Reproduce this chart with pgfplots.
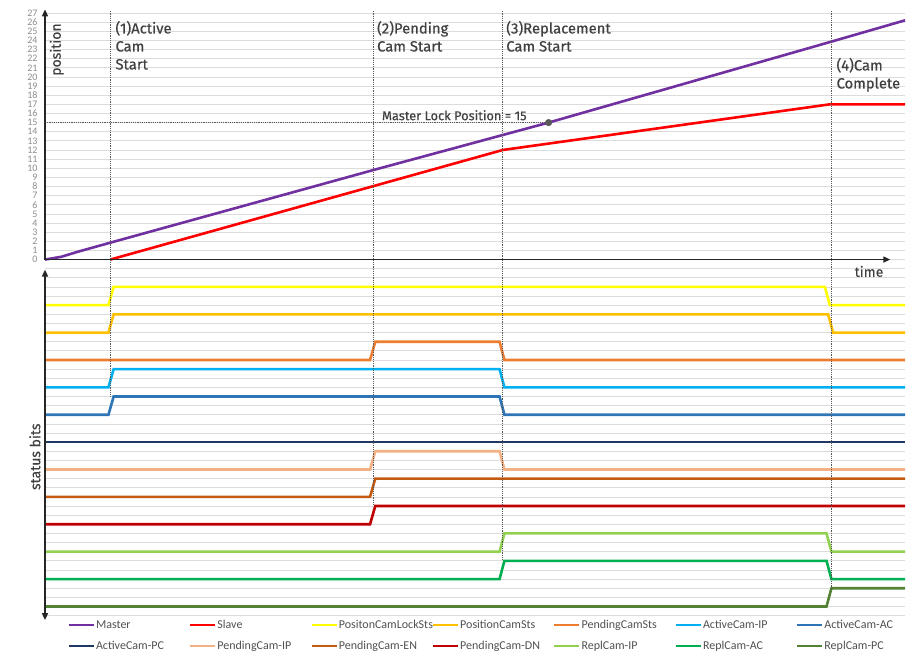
\documentclass[border=0pt]{standalone}
\usepackage{fontspec}
\setmainfont{Carlito}
\newfontfamily\annfont[FakeBold=0.4]{Fira Sans}
\usepackage{pgfplots}
\pgfplotsset{compat=1.18}
\usetikzlibrary{arrows.meta}
\definecolor{cMaster}{HTML}{7030A0}
\definecolor{cSlave}{HTML}{FF0000}
\definecolor{cLock}{HTML}{FFFF00}
\definecolor{cPosSts}{HTML}{FFC000}
\definecolor{cPendSts}{HTML}{ED7D31}
\definecolor{cActIP}{HTML}{00B0F0}
\definecolor{cActAC}{HTML}{2E75B6}
\definecolor{cActPC}{HTML}{1F3864}
\definecolor{cPendIP}{HTML}{F4B183}
\definecolor{cPendEN}{HTML}{C55A11}
\definecolor{cPendDN}{HTML}{C00000}
\definecolor{cReplIP}{HTML}{92D050}
\definecolor{cReplAC}{HTML}{00B050}
\definecolor{cReplPC}{HTML}{548235}
\definecolor{gridgray}{HTML}{DCDCDC}
\definecolor{tickgray}{HTML}{8C8C8C}
\definecolor{anngray}{HTML}{404040}
\definecolor{leggray}{HTML}{505050}
\definecolor{dotgray}{HTML}{595959}
\begin{document}
\begin{tikzpicture}
\begin{axis}[
  name=main,
  scale only axis, width=860pt, height=605.3pt,
  xmin=0, xmax=26.3, ymin=-39, ymax=27.3,
  axis line style={draw=none},
  xtick=\empty,
  ytick={0,...,27},
  extra y ticks={-39,...,-1},
  extra y tick labels={},
  extra y tick style={grid=major},
  ymajorgrids,
  major grid style={line width=0.7pt, color=gridgray},
  major tick length=0pt,
  tick style={draw=none},
  yticklabel style={font=\fontsize{10}{10}\selectfont, text=tickgray, xshift=-4pt},
  /pgf/number format/assume math mode=true,
  clip=false,
  legend columns=7,
  legend style={draw=none, fill=none, at={(axis cs:0.68,-39.25)}, anchor=north west,
    font=\fontsize{12}{13}\selectfont, text=leggray, row sep=7pt, inner sep=0pt,
    nodes={inner xsep=1pt}},
  legend image code/.code={\draw[#1] (0pt,0pt) -- (25pt,0pt);},
  every axis plot/.append style={line width=2.6pt},
]
% ---- position graph ----
\addplot[cMaster] coordinates {(0,0) (0.5,0.3) (1,0.85) (2,1.85) (10.04,9.8) (15.4,15) (24.08,23.9) (26.3,26.2)};
\addlegendentry{\makebox[91.8pt][l]{Master}}
\addplot[cSlave] coordinates {(2,0) (14,12) (24,17) (26.3,17)};
\addlegendentry{\makebox[91.8pt][l]{Slave}}
% ---- status bits ----
\addplot[cLock] coordinates {(0,-5) (1.94,-5) (2.1,-3) (23.85,-3) (24,-5) (26.3,-5)};
\addlegendentry{\makebox[91.8pt][l]{PositonCamLockSts}}
\addplot[cPosSts] coordinates {(0,-8) (1.94,-8) (2.1,-6) (23.95,-6) (24.1,-8) (26.3,-8)};
\addlegendentry{\makebox[91.8pt][l]{PositionCamSts}}
\addplot[cPendSts] coordinates {(0,-11) (9.94,-11) (10.1,-9) (13.9,-9) (14.05,-11) (26.3,-11)};
\addlegendentry{\makebox[91.8pt][l]{PendingCamSts}}
\addplot[cActIP] coordinates {(0,-14) (1.94,-14) (2.1,-12) (13.9,-12) (14.05,-14) (26.3,-14)};
\addlegendentry{\makebox[91.8pt][l]{ActiveCam-IP}}
\addplot[cActAC] coordinates {(0,-17) (1.94,-17) (2.1,-15) (13.9,-15) (14.05,-17) (26.3,-17)};
\addlegendentry{\makebox[70pt][l]{ActiveCam-AC}}
\addplot[cActPC] coordinates {(0,-20) (26.3,-20)};
\addlegendentry{\makebox[91.8pt][l]{ActiveCam-PC}}
\addplot[cPendIP] coordinates {(0,-23) (9.94,-23) (10.1,-21) (13.9,-21) (14.05,-23) (26.3,-23)};
\addlegendentry{\makebox[91.8pt][l]{PendingCam-IP}}
\addplot[cPendEN] coordinates {(0,-26) (9.94,-26) (10.1,-24) (26.3,-24)};
\addlegendentry{\makebox[91.8pt][l]{PendingCam-EN}}
\addplot[cPendDN] coordinates {(0,-29) (9.94,-29) (10.1,-27) (26.3,-27)};
\addlegendentry{\makebox[91.8pt][l]{PendingCam-DN}}
\addplot[cReplIP] coordinates {(0,-32) (13.9,-32) (14.05,-30) (23.9,-30) (24.05,-32) (26.3,-32)};
\addlegendentry{\makebox[91.8pt][l]{ReplCam-IP}}
\addplot[cReplAC] coordinates {(0,-35) (13.9,-35) (14.05,-33) (23.9,-33) (24.05,-35) (26.3,-35)};
\addlegendentry{\makebox[91.8pt][l]{ReplCam-AC}}
\addplot[cReplPC] coordinates {(0,-38) (23.9,-38) (24.05,-36) (26.3,-36)};
\addlegendentry{\makebox[70pt][l]{ReplCam-PC}}
% ---- dotted reference lines ----
\addplot[forget plot, line width=1.1pt, dash pattern=on 1.1pt off 1.1pt, color=black!65] coordinates {(2,27.2) (2,-15)};
\addplot[forget plot, line width=1.1pt, dash pattern=on 1.1pt off 1.1pt, color=black!65] coordinates {(10.05,27.2) (10.05,-27)};
\addplot[forget plot, line width=1.1pt, dash pattern=on 1.1pt off 1.1pt, color=black!65] coordinates {(14,27.2) (14,-33)};
\addplot[forget plot, line width=1.1pt, dash pattern=on 1.1pt off 1.1pt, color=black!65] coordinates {(24.05,27.2) (24.05,-36)};
\addplot[forget plot, line width=1.1pt, dash pattern=on 1.1pt off 1.1pt, color=black!65] coordinates {(0,15) (15.4,15)};
\addplot[forget plot, only marks, mark=*, mark size=3.3pt, color=dotgray, line width=0.4pt] coordinates {(15.4,15)};
% ---- axes arrows ----
\draw[-{Triangle[length=7pt,width=6pt]}, line width=1.5pt, black!85] (axis cs:0,0) -- (axis cs:0,27.4);
\draw[-{Triangle[length=7pt,width=6pt]}, line width=1.5pt, black!85] (axis cs:0,0) -- (axis cs:25.85,0);
\draw[{Triangle[length=7pt,width=6pt]}-{Triangle[length=7pt,width=6pt]}, line width=1.5pt, black!85] (axis cs:0,-1.1) -- (axis cs:0,-39.5);
% ---- labels ----
\node[anchor=north west, font=\annfont\fontsize{14.8}{18}\selectfont, text=anngray, align=left, inner sep=0pt] at (axis cs:2.15,26.15) {(1)Active\\Cam\\Start};
\node[anchor=north west, font=\annfont\fontsize{14.8}{18}\selectfont, text=anngray, align=left, inner sep=0pt] at (axis cs:10.15,26.15) {(2)Pending\\Cam Start};
\node[anchor=north west, font=\annfont\fontsize{14.8}{18}\selectfont, text=anngray, align=left, inner sep=0pt] at (axis cs:14.1,26.15) {(3)Replacement\\Cam Start};
\node[anchor=north west, font=\annfont\fontsize{14.8}{18}\selectfont, text=anngray, align=left, inner sep=0pt] at (axis cs:24.2,22.1) {(4)Cam\\Complete};
\node[anchor=west, font=\annfont\fontsize{12.8}{12.8}\selectfont, text=anngray, inner sep=0pt] at (axis cs:10.3,15.8) {Master Lock Position = 15};
\node[rotate=90, font=\annfont\fontsize{14}{14}\selectfont, text=anngray] at (axis cs:0.36,23.0) {position};
\node[font=\annfont\fontsize{14}{14}\selectfont, text=anngray] at (axis cs:25.2,-1.3) {time};
\node[rotate=90, font=\annfont\fontsize{14}{14}\selectfont, text=anngray] at (axis cs:-0.31,-21.6) {status bits};
\end{axis}
\path ([xshift=-45pt,yshift=-41.4pt]main.south west) rectangle ([xshift=7pt,yshift=10.3pt]main.north east);
\end{tikzpicture}
\end{document}
